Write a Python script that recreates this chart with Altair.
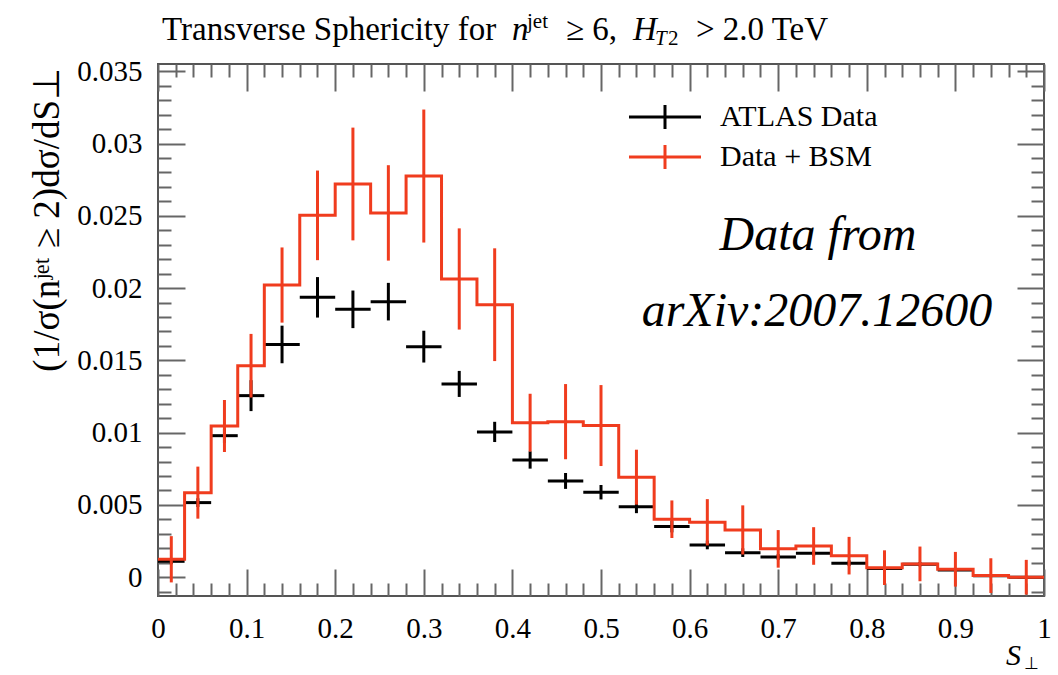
import altair as alt
import pandas as pd

# ---- data ----
bin_edges = [0.0, 0.03, 0.06, 0.09, 0.12, 0.16, 0.20, 0.24, 0.28, 0.32, 0.36, 0.40, 0.44,
             0.48, 0.52, 0.56, 0.60, 0.64, 0.68, 0.72, 0.76, 0.80, 0.84, 0.88, 0.92, 0.96, 1.00]
atlas = [0.0011, 0.00516, 0.00979, 0.01256, 0.0161, 0.01936, 0.01853, 0.01906, 0.01595,
         0.01337, 0.01005, 0.00811, 0.00666, 0.00588, 0.00488, 0.0035, 0.00223, 0.0017,
         0.0014, 0.00166, 0.00097, 0.0006, 0.0009, 0.0005, 0.0001, 0.0]
atlas_err = [0.0002, 0.0003, 0.0005, 0.00107, 0.0013, 0.0014, 0.0013, 0.0013, 0.0011,
             0.0009, 0.0007, 0.0006, 0.00055, 0.0005, 0.00045, 0.0004, 0.0003, 0.0003,
             0.0002, 0.0002, 0.0002, 0.00015, 0.00015, 0.0001, 0.0001, 0.0001]
bsm = [0.00124, 0.00585, 0.01046, 0.01463, 0.02021, 0.02503, 0.0272, 0.0252, 0.02775,
       0.02063, 0.01885, 0.01069, 0.01076, 0.01049, 0.00692, 0.00401, 0.0038, 0.00327,
       0.00196, 0.00216, 0.00149, 0.00066, 0.00092, 0.00055, 0.00011, 0.0]
bsm_err = [0.0016, 0.0018, 0.0018, 0.0022, 0.0026, 0.0031, 0.0039, 0.0033, 0.0046,
           0.0035, 0.0039, 0.002, 0.0026, 0.0028, 0.0019, 0.0013, 0.0016, 0.0017,
           0.0013, 0.0013, 0.0013, 0.0012, 0.0012, 0.0012, 0.0012, 0.0012]
series_names = ["ATLAS Data", "Data + BSM"]
series_colors = ["#000000", "#F03C1E"]

x_major = [0.0, 0.1, 0.2, 0.3, 0.4, 0.5, 0.6, 0.7, 0.8, 0.9, 1.0]
x_minor = [round(i * 0.02, 2) for i in range(51) if i % 5 != 0]
y_major = [0.0, 0.005, 0.01, 0.015, 0.02, 0.025, 0.03, 0.035]
y_minor = [round(i * 0.001, 3) for i in range(-1, 36) if i % 5 != 0]

# ---- tables ----
rows = []
for name, vals, errs in [(series_names[0], atlas, atlas_err), (series_names[1], bsm, bsm_err)]:
    for i, (v, e) in enumerate(zip(vals, errs)):
        lo, hi = bin_edges[i], bin_edges[i + 1]
        rows.append({"series": name, "lo": lo, "hi": hi, "mid": (lo + hi) / 2,
                     "val": v, "low": v - e, "high": v + e})
df = pd.DataFrame(rows)
df_atlas = df[df.series == series_names[0]]
df_bsm = df[df.series == series_names[1]]
step_df = pd.DataFrame({"series": series_names[1],
                        "edge": bin_edges,
                        "val": bsm + [bsm[-1]]})

FONT = "Liberation Serif"
TICKC = "#666666"
W, H = 886, 532

xscale = alt.Scale(domain=[0, 1], nice=False, zero=False)
yscale = alt.Scale(domain=[-0.0013, 0.0355], nice=False, zero=False)
cscale = alt.Scale(domain=series_names, range=series_colors)


def ax(orient, values, size, labels, pad=0):
    kw = dict(orient=orient, values=values, offset=-size, tickSize=size, domain=False,
              grid=False, labels=labels, tickColor=TICKC, tickWidth=2, title=None,
              labelFlush=False, labelOverlap=False)
    if labels:
        kw.update(format="~g", labelFont=FONT, labelFontSize=29, labelColor="black",
                  labelPadding=pad)
    return alt.Axis(**kw)


legend = alt.Legend(orient="none", legendX=492, legendY=38, title=None,
                    symbolType="M-3,0H3M0,-1V1", symbolSize=576, symbolStrokeWidth=3,
                    symbolFillColor="transparent", labelFont=FONT, labelFontSize=30,
                    labelColor="black", labelOffset=40, rowPadding=4, padding=0)

black_h = alt.Chart(df_atlas).mark_rule(strokeWidth=3).encode(
    x=alt.X("lo:Q", scale=xscale, axis=ax("bottom", x_major, 27, True, 18)),
    x2="hi:Q",
    y=alt.Y("val:Q", scale=yscale, axis=ax("left", y_major, 27, True, 16)),
    color=alt.Color("series:N", scale=cscale, legend=legend),
)
black_v = alt.Chart(df_atlas).mark_rule(strokeWidth=3).encode(
    x=alt.X("mid:Q", scale=xscale, axis=ax("bottom", x_minor, 13, False)),
    y=alt.Y("low:Q", scale=yscale, axis=ax("left", y_minor, 13, False)),
    y2="high:Q",
    color=alt.Color("series:N", scale=cscale, legend=None),
)
red_line = alt.Chart(step_df).mark_line(interpolate="step-after", strokeWidth=3).encode(
    x=alt.X("edge:Q", scale=xscale, axis=ax("top", x_major, 27, False)),
    y=alt.Y("val:Q", scale=yscale, axis=ax("right", y_major, 27, False)),
    color=alt.Color("series:N", scale=cscale, legend=None),
)
red_v = alt.Chart(df_bsm).mark_rule(strokeWidth=3).encode(
    x=alt.X("mid:Q", scale=xscale, axis=ax("top", x_minor, 13, False)),
    y=alt.Y("low:Q", scale=yscale, axis=ax("right", y_minor, 13, False)),
    y2="high:Q",
    color=alt.Color("series:N", scale=cscale, legend=None),
)


def txt(s, x, y, size, style="normal", align="left", baseline="alphabetic", angle=0):
    kw = dict(font=FONT, fontSize=size, fontStyle=style, align=align,
              baseline=baseline, color="black")
    if angle:
        kw["angle"] = angle
    return alt.Chart(pd.DataFrame({"t": [s]})).mark_text(**kw).encode(
        text="t:N", x=alt.value(x), y=alt.value(y))


texts = [
    txt("Transverse Sphericity for", 4, -24, 33),
    txt("n", 354, -24, 33, "italic"),
    txt("jet", 369, -36, 21),
    txt("≥ 6,", 408, -24, 33),
    txt("H", 475, -24, 33, "italic"),
    txt("T", 497, -19, 21, "italic"),
    txt("2", 510, -19, 21),
    txt("> 2.0 TeV", 538, -24, 33),
    txt("Data from", 660, 186, 48, "italic", "center"),
    txt("arXiv:2007.12600", 659, 262, 48, "italic", "center"),
    txt("S", 848, 601, 30, "italic"),
    txt("⊥", 866, 605, 17),
    txt("(1/σ(nʲᵉᵗ ≥ 2)dσ/dS⊥", -110, 4, 37, "normal", "right", "middle", 270),
]

chart = alt.layer(black_h, black_v, red_line, red_v, *texts).resolve_axis(
    x="independent", y="independent"
).properties(
    width=W, height=H,
    autosize=alt.AutoSizeParams(type="none"),
    padding={"left": 158, "top": 64, "right": 14, "bottom": 79},
    background="white",
).configure_view(stroke="#555555", strokeWidth=2)

chart.save("out.html", embed_options={"renderer": "svg", "actions": False})
